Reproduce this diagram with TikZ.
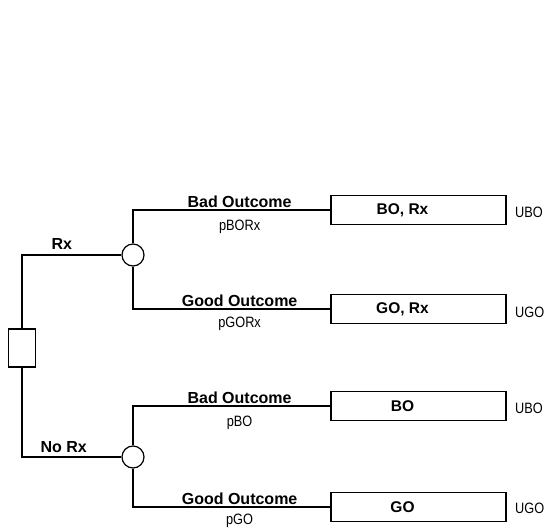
\documentclass[tikz,border=0pt]{standalone}
\usepackage{fontspec}
\setmainfont{Liberation Sans}
\newfontfamily\narrowsans[FakeStretch=0.85]{Liberation Sans}
\usetikzlibrary{positioning}
\tikzset{
	every path/.style={line width=1.2pt},
	decbox/.style={draw,fill=white,minimum width=27pt,minimum height=38pt,inner sep=0pt},
	chance/.style={draw,fill=white,circle,minimum size=22pt,inner sep=0pt},
	endbox/.style={draw,minimum width=175pt,minimum height=29pt,inner sep=0pt},
	boxtext/.style={font=\fontsize{15.5}{18}\selectfont\bfseries,xshift=-16pt},
	brlabel/.style={font=\fontsize{16}{18}\selectfont\bfseries,inner sep=2pt},
	prlabel/.style={font=\fontsize{15}{17}\selectfont\narrowsans,inner sep=2pt},
	utlabel/.style={font=\fontsize{15}{17}\selectfont\narrowsans,inner sep=0pt},
}

\begin{document}
\begin{tikzpicture}[x=1pt,y=-1pt]
			\useasboundingbox (0,0) rectangle (546,528);
			
			% decision and chance nodes.................
			\node [decbox] (dec) at (22,348) {};
			\node [chance] (rx) at (133,255) {};
			\node [chance] (norx) at (133,457) {};
			
			% end boxes.......................
			\node [endbox, label={[boxtext]center:{BO, Rx}}] (borx) at (418.5,210) {};
			\node [endbox, label={[boxtext]center:{GO, Rx}}] (gorx) at (418.5,309) {};
			\node [endbox, label={[boxtext]center:BO}] (bo) at (418.5,406) {};
			\node [endbox, label={[boxtext]center:GO}] (go) at (418.5,507) {};
			
			% utilities.......................
			\node [utlabel, right=8pt of borx, yshift=-2pt] (ubo1) {UBO};
			\node [utlabel, right=8pt of gorx, yshift=-3pt] (ugo1) {UGO};
			\node [utlabel, right=8pt of bo, yshift=-2pt] (ubo2) {UBO};
			\node [utlabel, right=8pt of go, yshift=-1pt] (ugo2) {UGO};
			
			% treatment branches..............
			\draw (dec.north) |- (rx.west) node [brlabel, pos=0.7, above=3pt] {Rx};
			\draw (dec.south) |- (norx.west) node [brlabel, pos=0.71, above=2pt] {No Rx};
			
			% outcome branches, Rx............
			\draw (rx.north) |- (borx.west)
				node [brlabel, pos=0.77, above] {Bad Outcome}
				node [prlabel, pos=0.77, below=7pt] {pBORx};
			\draw (rx.south) |- (gorx.west)
				node [brlabel, pos=0.77, above] {Good Outcome}
				node [prlabel, pos=0.77, below=5pt] {pGORx};
			
			% outcome branches, No Rx.........
			\draw (norx.north) |- (bo.west)
				node [brlabel, pos=0.77, above] {Bad Outcome}
				node [prlabel, pos=0.77, below=7pt] {pBO};
			\draw (norx.south) |- (go.west)
				node [brlabel, pos=0.77, above] {Good Outcome}
				node [prlabel, pos=0.77, below=4pt] {pGO};
		\end{tikzpicture}
\end{document}
